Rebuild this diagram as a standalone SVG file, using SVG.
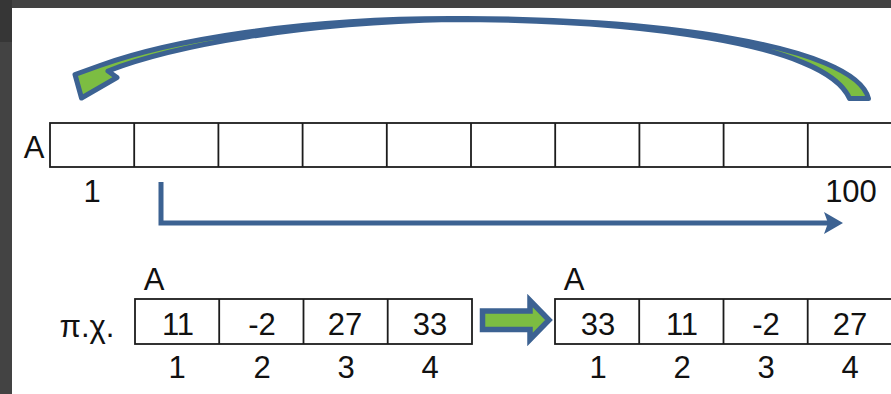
<svg xmlns="http://www.w3.org/2000/svg" width="891" height="394" viewBox="0 0 891 394">
  <style>
    .cell { fill: #ffffff; stroke: #1c1c1c; stroke-width: 1.8; }
    .div { stroke: #1c1c1c; stroke-width: 1.8; }
    .t { font-family: "Liberation Sans", Arial, sans-serif; font-size: 31px; fill: #111111; text-anchor: middle; }
    .blue { stroke: #3c6292; }
  </style>
  <defs>
    <marker id="head" markerUnits="userSpaceOnUse" markerWidth="24" markerHeight="24" refX="11" refY="11" orient="auto">
      <path d="M0,0 L19,11 L0,22 L4,11 Z" fill="#3c6292"/>
    </marker>
  </defs>

  <!-- background frame -->
  <rect x="0" y="0" width="891" height="394" fill="#434343"/>
  <rect x="0" y="0" width="12" height="42" fill="#363636"/>
  <rect x="12" y="8" width="879" height="386" fill="#ffffff"/>

  <!-- top array A[1..100] -->
  <g id="array-top">
    <rect class="cell" x="50" y="123" width="842" height="44"/>
    <path class="div" d="M134.2,123V167 M218.4,123V167 M302.6,123V167 M386.8,123V167 M471,123V167 M555.2,123V167 M639.4,123V167 M723.6,123V167 M807.8,123V167"/>
    <text class="t" x="34" y="158">A</text>
    <text class="t" x="92" y="202">1</text>
    <text class="t" x="851" y="202">100</text>
  </g>

  <!-- example array before -->
  <g id="array-before">
    <text class="t" x="154" y="290">A</text>
    <text class="t" x="87" y="337">π.χ.</text>
    <rect class="cell" x="135" y="299" width="337" height="45"/>
    <path class="div" d="M219.2,299V344 M303.5,299V344 M387.7,299V344"/>
    <text class="t" x="178" y="335">11</text>
    <text class="t" x="262" y="335">-2</text>
    <text class="t" x="345" y="335">27</text>
    <text class="t" x="430" y="335">33</text>
    <text class="t" x="177" y="378">1</text>
    <text class="t" x="262" y="378">2</text>
    <text class="t" x="346" y="378">3</text>
    <text class="t" x="430" y="378">4</text>
  </g>

  <!-- example array after -->
  <g id="array-after">
    <text class="t" x="574" y="290">A</text>
    <rect class="cell" x="555" y="299" width="337" height="45"/>
    <path class="div" d="M639.2,299V344 M723.5,299V344 M807.7,299V344"/>
    <text class="t" x="598" y="335">33</text>
    <text class="t" x="682" y="335">11</text>
    <text class="t" x="766" y="335">-2</text>
    <text class="t" x="850" y="335">27</text>
    <text class="t" x="598" y="378">1</text>
    <text class="t" x="682" y="378">2</text>
    <text class="t" x="766" y="378">3</text>
    <text class="t" x="850" y="378">4</text>
  </g>

  <g id="connectors">
    <!-- curved arrow from last cell back to first -->
    <path id="curved-arrow" class="blue" fill="#7cbd42" stroke-width="5" stroke-linejoin="round"
      d="M868.5,98.5 C855,45 650,17 450,18.5 C300,18.5 170,40 100,65.5 L75,74.5 L81.5,98 L117,77.5 L108,71 C175,45 300,23 450,19.5 C630,19.5 825,42 849.5,98.5 Z"/>
    <!-- L-shaped shift arrow -->
    <path id="shift-arrow" class="blue" fill="none" stroke-width="5" stroke-linejoin="miter"
      d="M161,182 V223 H835" marker-end="url(#head)"/>
    <!-- block arrow before -> after -->
    <path id="block-arrow" class="blue" fill="#7cbd42" stroke-width="5.5" stroke-linejoin="miter"
      d="M482.5,311 H530 V300.5 L549,320 L530,339.5 V329.5 H482.5 Z"/>
  </g>
</svg>
